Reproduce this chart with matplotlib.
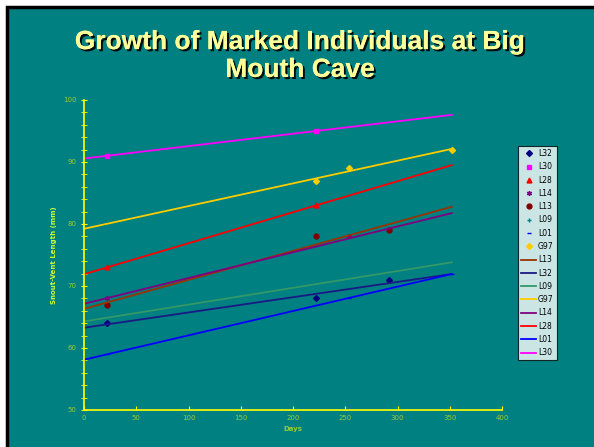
import numpy as np
import matplotlib
matplotlib.use("Agg")
import matplotlib.pyplot as plt
import matplotlib.patheffects as pe
from matplotlib.patches import Rectangle

# -------- DONNÉES --------
names_pts = ["L32", "L30", "L28", "L14", "L13", "L09", "L01", "G97"]
days = {
    "L32": [22, 222, 292],
    "L30": [22, 222],
    "L28": [22, 222],
    "L14": [22, 254, 292],
    "L13": [22, 222, 292],
    "L09": [22, 222, 352],
    "L01": [22, 254, 352],
    "G97": [222, 254, 352],
}
svl = {
    "L32": [64, 68, 71],
    "L30": [91, 95],
    "L28": [73, 83],
    "L14": [68, 78, 79],
    "L13": [67, 78, 79],
    "L09": [65, 70, 74],
    "L01": [59, 68, 72],
    "G97": [87, 89, 92],
}
names_lines = ["L13", "L32", "L09", "G97", "L14", "L28", "L01", "L30"]

# styles
markers = {"L32": "D", "L30": "s", "L28": "^", "L14": (6, 2, 0), "L13": "o",
           "L09": "+", "L01": "_", "G97": "D"}
mcolors = {"L32": "#000080", "L30": "#FF00FF", "L28": "#FF0000", "L14": "#800080",
           "L13": "#800000", "L09": "#008080", "L01": "#0000FF", "G97": "#FFCC00"}
lcolors = {"L13": "#993300", "L32": "#1A1A85", "L09": "#339966", "G97": "#FFCC00",
           "L14": "#800080", "L28": "#FF0000", "L01": "#0000FF", "L30": "#FF00FF"}

TEAL = "#008080"
YEL = "#FFFF00"
LAB = "#99CC33"

fig = plt.figure(figsize=(5.94, 4.47), dpi=100, facecolor="white")
fig.patches.append(Rectangle((7 / 594, -0.01), 1.0, 1 - 7 / 447 + 0.01,
                             transform=fig.transFigure, facecolor=TEAL,
                             edgecolor="black", linewidth=2.5, zorder=-5))

ax = fig.add_axes([84 / 594, 1 - 410 / 447, 418 / 594, 310 / 447])
ax.set_zorder(2)
ax.patch.set_alpha(0)

for n in names_pts:
    ax.plot(days[n], svl[n], linestyle="none", marker=markers[n], color=mcolors[n],
            markersize=3.5 if markers[n] != "D" else 3, markeredgewidth=1, label=n)

xs = np.array([0, 352])
for n in names_lines:
    a, b = np.polyfit(days[n], svl[n], 1)
    ax.plot(xs, a * xs + b, color=lcolors[n], linewidth=1.3, label=n)

ax.set_xlim(0, 400)
ax.set_ylim(50, 100)
ax.set_xticks(range(0, 401, 50))
ax.set_yticks(range(50, 101, 10))
ax.set_yticks(range(50, 101, 2), minor=True)
for s in ["top", "right"]:
    ax.spines[s].set_visible(False)
for s in ["left", "bottom"]:
    ax.spines[s].set_color(YEL)
    ax.spines[s].set_linewidth(1.2)
ax.tick_params(axis="x", colors=YEL, labelcolor=LAB, labelsize=5, direction="in", length=3)
ax.tick_params(axis="y", which="both", colors=YEL, labelcolor=LAB, labelsize=5,
               direction="inout", length=4)
ax.set_xlabel("Days", color=LAB, fontsize=5, fontweight="bold", labelpad=4)
ax.set_ylabel("Snout-Vent Length (mm)", color="#CCFF33", fontsize=5, fontweight="bold", labelpad=4)

leg = fig.legend(loc="upper left", bbox_to_anchor=(518 / 594, 1 - 146 / 447),
                 fontsize=5.5, frameon=True, fancybox=False, handlelength=2.0,
                 borderpad=0.4, labelspacing=0.56, handletextpad=0.2, borderaxespad=0)
leg.get_frame().set_edgecolor("black")
leg.get_frame().set_linewidth(0.8)
leg.set_zorder(10)

title_fx = [pe.withSimplePatchShadow(offset=(1.5, -1.5), shadow_rgbFace="black", alpha=0.9),
            pe.Normal()]
fig.text(0.505, 1 - 56 / 447, "Growth of Marked Individuals at Big\nMouth Cave",
         ha="center", va="center", fontsize=19, fontweight="bold", color="#FFFF99",
         family="Liberation Sans", linespacing=1.2, path_effects=title_fx)

plt.savefig("out.png", dpi=100, facecolor=fig.get_facecolor())
